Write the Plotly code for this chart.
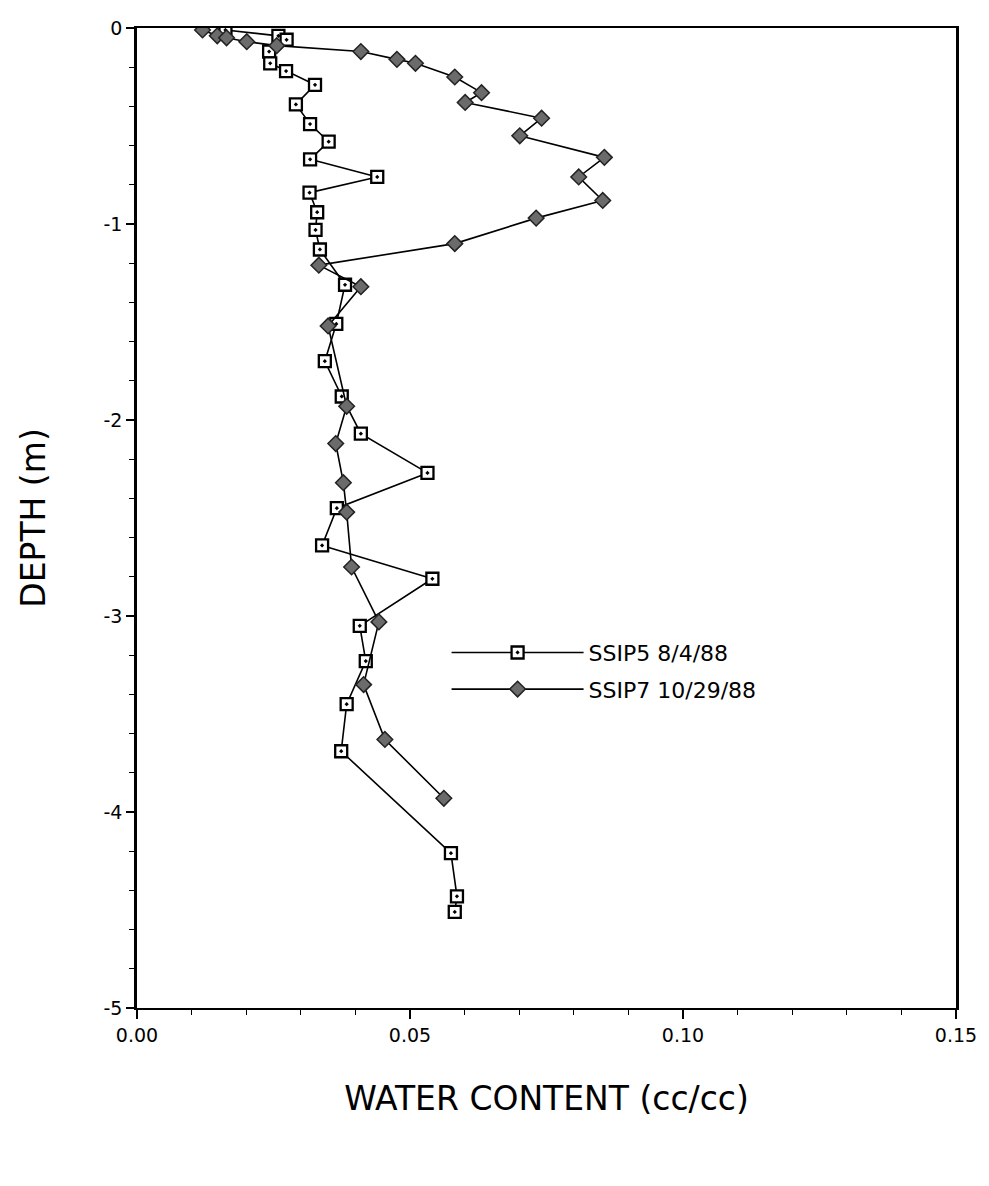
import plotly.graph_objects as go

# SSIP5 8/4/88 (squares)
ssip5_wc = [0.0162, 0.0259, 0.0274, 0.0242, 0.0244, 0.0273, 0.0326, 0.0291, 0.0317, 0.0351,
            0.0317, 0.0440, 0.0316, 0.0330, 0.0327, 0.0335, 0.0381, 0.0365, 0.0344, 0.0375,
            0.0410, 0.0532, 0.0366, 0.0339, 0.0541, 0.0408, 0.0419, 0.0384, 0.0374, 0.0575,
            0.0586, 0.0582]
ssip5_depth = [-0.01, -0.04, -0.06, -0.12, -0.18, -0.22, -0.29, -0.39, -0.49, -0.58,
               -0.67, -0.76, -0.84, -0.94, -1.03, -1.13, -1.31, -1.51, -1.70, -1.88,
               -2.07, -2.27, -2.45, -2.64, -2.81, -3.05, -3.23, -3.45, -3.69, -4.21,
               -4.43, -4.51]

# SSIP7 10/29/88 (diamonds)
ssip7_wc = [0.0120, 0.0147, 0.0164, 0.0201, 0.0256, 0.0410, 0.0476, 0.0510, 0.0582, 0.0631,
            0.0601, 0.0741, 0.0701, 0.0856, 0.0809, 0.0853, 0.0731, 0.0582, 0.0333, 0.0410,
            0.0350, 0.0384, 0.0364, 0.0378, 0.0384, 0.0393, 0.0443, 0.0415, 0.0454, 0.0562]
ssip7_depth = [-0.01, -0.04, -0.05, -0.07, -0.09, -0.12, -0.16, -0.18, -0.25, -0.33,
               -0.38, -0.46, -0.55, -0.66, -0.76, -0.88, -0.97, -1.10, -1.21, -1.32,
               -1.52, -1.93, -2.12, -2.32, -2.47, -2.75, -3.03, -3.35, -3.63, -3.93]

x_tickvals = [0.0, 0.05, 0.10, 0.15]
x_ticktext = ["0.00", "0.05", "0.10", "0.15"]
y_tickvals = [0, -1, -2, -3, -4, -5]
y_ticktext = ["0", "-1", "-2", "-3", "-4", "-5"]

FONT = "DejaVu Sans, Liberation Sans, Arial, sans-serif"

fig = go.Figure()
fig.add_trace(go.Scatter(
    x=ssip5_wc, y=ssip5_depth, mode="lines+markers", name="SSIP5 8/4/88",
    legendgroup="a",
    line=dict(color="black", width=1.6),
    marker=dict(symbol="square-dot", size=12, color="white",
                line=dict(color="black", width=2.3)),
))
fig.add_trace(go.Scatter(
    x=ssip7_wc, y=ssip7_depth, mode="lines+markers", name="SSIP7 10/29/88",
    legendgroup="b",
    line=dict(color="black", width=1.6),
    marker=dict(symbol="diamond", size=12, color="#6b6b6b",
                line=dict(color="#222222", width=1.5)),
))

fig.update_layout(
    width=989, height=1186,
    margin=dict(l=137, r=22, t=28, b=178),
    paper_bgcolor="white", plot_bgcolor="white",
    font=dict(family=FONT, color="black"),
    showlegend=True,
    legend=dict(x=0.378, y=0.384, xanchor="left", yanchor="top",
                bgcolor="rgba(0,0,0,0)", font=dict(size=22, family=FONT),
                tracegroupgap=5, itemwidth=132),
)
fig.update_xaxes(
    range=[0, 0.15], tickvals=x_tickvals, ticktext=x_ticktext,
    ticks="outside", ticklen=9, tickwidth=1.5, tickcolor="black",
    minor=dict(dtick=0.01, tick0=0, ticks="outside", ticklen=5, tickwidth=1.2, tickcolor="black"),
    showline=True, linecolor="black", linewidth=2.2, mirror=True,
    showgrid=False, zeroline=False,
    tickfont=dict(size=19, family=FONT),
    title=dict(text="WATER CONTENT (cc/cc)", font=dict(size=33, family=FONT), standoff=42),
)
fig.update_yaxes(
    range=[-5, 0], tickvals=y_tickvals, ticktext=y_ticktext,
    ticks="outside", ticklen=8, tickwidth=1.5, tickcolor="black",
    minor=dict(dtick=0.2, tick0=0, ticks="outside", ticklen=5, tickwidth=1.2, tickcolor="black"),
    showline=True, linecolor="black", linewidth=2.6, mirror=True,
    showgrid=False, zeroline=False,
    tickfont=dict(size=19, family=FONT),
    title=dict(text="DEPTH (m)", font=dict(size=33, family=FONT), standoff=48),
)

fig.write_html("out.html")
